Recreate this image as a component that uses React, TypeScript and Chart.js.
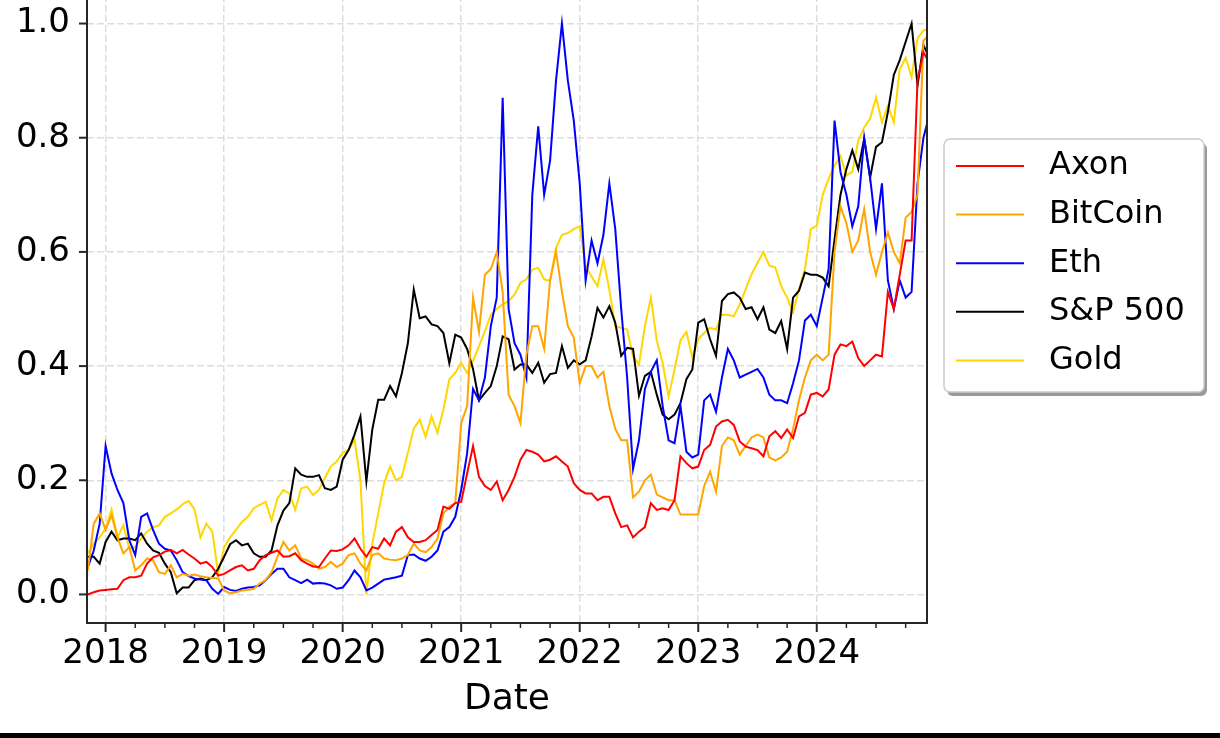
import React, { useEffect, useRef } from 'react';
import { Chart, registerables } from 'chart.js';

Chart.register(...registerables);

// sampled every 0.05 year, starting late 2017
const START_YEAR = 2017.85;
const STEP_YEARS = 0.05;

const axon = [
  0.0, 0.004, 0.007, 0.008, 0.009, 0.01, 0.025, 0.03, 0.03, 0.033, 0.054, 0.065, 0.069, 0.075, 0.078, 0.072, 0.078, 0.07, 0.063, 0.054,
  0.057, 0.048, 0.033, 0.036, 0.042, 0.048, 0.051, 0.042, 0.045, 0.06, 0.069, 0.073, 0.077, 0.066, 0.067, 0.072, 0.06, 0.054, 0.049, 0.048,
  0.063, 0.077, 0.076, 0.079, 0.086, 0.098, 0.08, 0.066, 0.083, 0.08, 0.098, 0.086, 0.11, 0.118, 0.1, 0.092, 0.092, 0.095, 0.104, 0.113,
  0.154, 0.15, 0.16, 0.162, 0.212, 0.26, 0.206, 0.19, 0.183, 0.198, 0.165, 0.183, 0.206, 0.236, 0.253, 0.25, 0.245, 0.233, 0.236, 0.242,
  0.233, 0.224, 0.195, 0.183, 0.177, 0.177, 0.165, 0.171, 0.171, 0.142, 0.118, 0.121, 0.1, 0.11, 0.118, 0.16, 0.148, 0.151, 0.148, 0.165,
  0.242, 0.23, 0.221, 0.224, 0.253, 0.262, 0.294, 0.303, 0.306, 0.297, 0.268, 0.259, 0.256, 0.253, 0.242, 0.277, 0.286, 0.274, 0.289, 0.274,
  0.312, 0.318, 0.35, 0.353, 0.347, 0.359, 0.42, 0.438, 0.435, 0.443, 0.414, 0.4, 0.41, 0.42, 0.417, 0.53, 0.5, 0.56, 0.62, 0.62,
  0.9, 0.95, 0.93,
];

const bitcoin = [
  0.042, 0.124, 0.142, 0.113, 0.139, 0.1, 0.072, 0.083, 0.042, 0.051, 0.063, 0.06, 0.039, 0.036, 0.051, 0.03, 0.036, 0.033, 0.035, 0.032,
  0.03, 0.029, 0.028, 0.007, 0.002, 0.004, 0.007, 0.008, 0.01, 0.019, 0.025, 0.039, 0.066, 0.092, 0.077, 0.086, 0.063, 0.06, 0.054, 0.045,
  0.048, 0.057, 0.048, 0.054, 0.069, 0.072, 0.054, 0.042, 0.069, 0.072, 0.063, 0.061, 0.06, 0.063, 0.069, 0.089, 0.077, 0.074, 0.083, 0.098,
  0.142, 0.154, 0.16, 0.3, 0.33, 0.52, 0.46, 0.56, 0.57, 0.6, 0.53, 0.35, 0.33, 0.3, 0.42, 0.47, 0.47, 0.43, 0.55, 0.6,
  0.53, 0.47, 0.45, 0.37, 0.4, 0.4, 0.38, 0.39, 0.33, 0.29, 0.27, 0.27, 0.17, 0.18, 0.2, 0.21, 0.175, 0.17, 0.165, 0.165,
  0.14, 0.14, 0.14, 0.14, 0.19, 0.215, 0.18, 0.26, 0.275, 0.27, 0.245, 0.26, 0.275, 0.28, 0.275, 0.24, 0.235, 0.24, 0.25, 0.29,
  0.34, 0.38, 0.41, 0.42, 0.41, 0.42, 0.6, 0.68, 0.65, 0.6, 0.62, 0.675, 0.6, 0.56, 0.6, 0.634, 0.6, 0.58, 0.66, 0.67,
  0.7, 0.97, 0.98,
];

const eth = [
  0.048, 0.077, 0.124, 0.26, 0.212, 0.183, 0.16, 0.095, 0.069, 0.136, 0.142, 0.113, 0.089, 0.08, 0.077, 0.06, 0.039, 0.032, 0.028, 0.026,
  0.025, 0.01, 0.001, 0.013, 0.008, 0.006, 0.01, 0.012, 0.013, 0.016, 0.025, 0.036, 0.045, 0.045, 0.03, 0.025, 0.02, 0.026, 0.019, 0.02,
  0.019, 0.016, 0.01, 0.012, 0.025, 0.042, 0.03, 0.007, 0.012, 0.019, 0.026, 0.028, 0.03, 0.033, 0.069, 0.07, 0.063, 0.059, 0.066, 0.077,
  0.11, 0.118, 0.136, 0.183, 0.247, 0.36, 0.34, 0.38, 0.47, 0.52, 0.87, 0.5, 0.44, 0.42, 0.38, 0.7, 0.82, 0.7, 0.76, 0.9,
  1.0, 0.9, 0.83, 0.72, 0.55, 0.62, 0.58, 0.63, 0.72, 0.64, 0.5, 0.38, 0.22, 0.27, 0.36, 0.39, 0.41, 0.33, 0.27, 0.265,
  0.33, 0.25, 0.24, 0.245, 0.34, 0.35, 0.32, 0.38, 0.43, 0.41, 0.38, 0.385, 0.39, 0.395, 0.38, 0.35, 0.34, 0.34, 0.335, 0.37,
  0.41, 0.48, 0.49, 0.47, 0.52, 0.57, 0.83, 0.74, 0.7, 0.645, 0.68, 0.8, 0.73, 0.64, 0.72, 0.55, 0.5, 0.55, 0.52, 0.53,
  0.72, 0.8, 0.84,
];

const sp500 = [
  0.066, 0.066, 0.054, 0.092, 0.11, 0.095, 0.098, 0.098, 0.095, 0.107, 0.089, 0.077, 0.073, 0.054, 0.039, 0.002, 0.012, 0.012, 0.025, 0.028,
  0.025, 0.03, 0.045, 0.066, 0.088, 0.095, 0.086, 0.089, 0.072, 0.066, 0.066, 0.077, 0.121, 0.147, 0.16, 0.221, 0.21, 0.206, 0.206, 0.209,
  0.186, 0.183, 0.189, 0.236, 0.253, 0.28, 0.312, 0.198, 0.289, 0.341, 0.341, 0.365, 0.347, 0.388, 0.44, 0.534, 0.484, 0.487, 0.473, 0.47,
  0.458, 0.405, 0.455, 0.45, 0.43, 0.395, 0.34, 0.353, 0.365, 0.4, 0.452, 0.447, 0.394, 0.403, 0.403, 0.388, 0.406, 0.371, 0.386, 0.388,
  0.435, 0.397, 0.41, 0.403, 0.41, 0.452, 0.502, 0.485, 0.505, 0.476, 0.418, 0.432, 0.43, 0.348, 0.383, 0.39, 0.35, 0.315, 0.307, 0.315,
  0.335, 0.377, 0.394, 0.476, 0.482, 0.447, 0.418, 0.514, 0.526, 0.529, 0.52, 0.5, 0.503, 0.482, 0.503, 0.464, 0.458, 0.479, 0.43, 0.52,
  0.532, 0.564, 0.56, 0.56, 0.555, 0.54, 0.622, 0.7, 0.745, 0.778, 0.745, 0.798, 0.73, 0.784, 0.792, 0.845, 0.91, 0.936, 0.968, 1.0,
  0.892, 0.962, 0.94,
];

const gold = [
  0.072, 0.089, 0.1, 0.116, 0.149, 0.1, 0.121, 0.08, 0.083, 0.098, 0.11, 0.118, 0.121, 0.136, 0.142, 0.149, 0.158, 0.164, 0.149, 0.1,
  0.124, 0.11, 0.036, 0.083, 0.1, 0.113, 0.127, 0.136, 0.151, 0.157, 0.162, 0.13, 0.168, 0.183, 0.177, 0.148, 0.186, 0.189, 0.174, 0.183,
  0.204, 0.224, 0.233, 0.248, 0.253, 0.271, 0.2, 0.0, 0.089, 0.142, 0.195, 0.224, 0.2, 0.206, 0.248, 0.291, 0.306, 0.276, 0.312, 0.283,
  0.324, 0.377, 0.388, 0.406, 0.388, 0.409, 0.435, 0.461, 0.49, 0.5, 0.508, 0.514, 0.525, 0.546, 0.552, 0.569, 0.572, 0.552, 0.549, 0.607,
  0.63, 0.633, 0.64, 0.645, 0.575, 0.557, 0.54, 0.587, 0.534, 0.47, 0.467, 0.464, 0.417, 0.403, 0.47, 0.52, 0.445, 0.405, 0.347, 0.394,
  0.445, 0.46, 0.415, 0.447, 0.458, 0.467, 0.464, 0.49, 0.49, 0.487, 0.508, 0.535, 0.561, 0.581, 0.6, 0.576, 0.573, 0.54, 0.52, 0.494,
  0.535, 0.57, 0.64, 0.646, 0.7, 0.728, 0.751, 0.768, 0.734, 0.74, 0.795, 0.818, 0.833, 0.871, 0.827, 0.856, 0.827, 0.92, 0.94, 0.906,
  0.974, 0.988, 0.99,
];

const dates = axon.map((_, i) => +(START_YEAR + i * STEP_YEARS).toFixed(2));

const yearTicks = [2018, 2019, 2020, 2021, 2022, 2023, 2024];
const valueTicks = [0, 0.2, 0.4, 0.6, 0.8, 1.0];

const FONT = 'DejaVu Sans';

const series = [
  { label: 'Axon', values: axon, color: '#ff0000' },
  { label: 'BitCoin', values: bitcoin, color: '#ffa500' },
  { label: 'Eth', values: eth, color: '#0000ff' },
  { label: 'S&P 500', values: sp500, color: '#000000' },
  { label: 'Gold', values: gold, color: '#ffd700' },
];

// spines and tick marks, matplotlib style
const framePlugin = {
  id: 'frame',
  afterDraw(chart: Chart) {
    const { ctx, chartArea: a } = chart;
    const xs: any = chart.scales.x;
    const ys: any = chart.scales.y;
    ctx.save();
    ctx.strokeStyle = '#262626';
    ctx.lineWidth = 2;
    ctx.beginPath();
    ctx.moveTo(a.left, a.top);
    ctx.lineTo(a.left, a.bottom);
    ctx.lineTo(a.right, a.bottom);
    ctx.lineTo(a.right, a.top);
    ctx.stroke();

    for (let q = Math.ceil(xs.min * 4); q <= Math.floor(xs.max * 4); q++) {
      const major = q % 4 === 0;
      const px = xs.getPixelForValue(q / 4);
      ctx.lineWidth = major ? 2 : 1.5;
      ctx.beginPath();
      ctx.moveTo(px, a.bottom);
      ctx.lineTo(px, a.bottom + (major ? 9 : 5));
      ctx.stroke();
    }
    ctx.lineWidth = 2;
    valueTicks.forEach((v) => {
      const py = ys.getPixelForValue(v);
      ctx.beginPath();
      ctx.moveTo(a.left - 8, py);
      ctx.lineTo(a.left, py);
      ctx.stroke();
    });
    ctx.restore();
  },
};

const legendPlugin = {
  id: 'boxLegend',
  afterDraw(chart: Chart) {
    const ctx = chart.ctx;
    const left = 944;
    const top = 144;
    const w = 260;
    const h = 253;
    ctx.save();
    ctx.fillStyle = 'rgba(0,0,0,0.4)';
    ctx.beginPath();
    ctx.roundRect(left + 3, top + 4, w, h, 6);
    ctx.fill();
    ctx.fillStyle = '#ffffff';
    ctx.strokeStyle = '#cccccc';
    ctx.lineWidth = 1.5;
    ctx.beginPath();
    ctx.roundRect(left, top, w, h, 6);
    ctx.fill();
    ctx.stroke();

    ctx.font = `32px "${FONT}"`;
    ctx.textBaseline = 'middle';
    ctx.textAlign = 'left';
    chart.data.datasets.forEach((ds: any, i: number) => {
      const cy = top + 27 + i * 48.6;
      ctx.strokeStyle = ds.borderColor;
      ctx.lineWidth = 2;
      ctx.beginPath();
      ctx.moveTo(956, cy);
      ctx.lineTo(1024, cy);
      ctx.stroke();
      ctx.fillStyle = '#000000';
      ctx.fillText(ds.label, 1049, cy);
    });
    ctx.restore();
  },
};

const PriceChart: React.FC = () => {
  const canvasRef = useRef<HTMLCanvasElement>(null);
  const chartRef = useRef<Chart | null>(null);

  useEffect(() => {
    if (!canvasRef.current) return;
    const ctx = canvasRef.current.getContext('2d');
    if (!ctx) return;
    if (chartRef.current) chartRef.current.destroy();

    chartRef.current = new Chart(ctx, {
      type: 'line',
      data: {
        datasets: series.map((s) => ({
          label: s.label,
          data: dates.map((d, i) => ({ x: d, y: s.values[i] })),
          borderColor: s.color,
          backgroundColor: s.color,
          borderWidth: 2,
          pointRadius: 0,
          tension: 0,
        })),
      },
      options: {
        responsive: false,
        animation: false,
        layout: { padding: { left: 0, right: 293, top: 0, bottom: 0 } },
        plugins: {
          legend: { display: false },
          tooltip: { enabled: false },
        },
        scales: {
          x: {
            type: 'linear',
            min: 2017.843,
            max: 2024.93,
            afterBuildTicks: (scale: any) => {
              scale.ticks = yearTicks.map((v) => ({ value: v }));
            },
            afterFit: (scale: any) => {
              scale.height = 110;
              scale.paddingLeft = 0;
              scale.paddingRight = 0;
            },
            ticks: {
              autoSkip: false,
              maxRotation: 0,
              padding: 11,
              color: '#000000',
              font: { family: FONT, size: 34 },
              callback: (v: any) => String(v),
            },
            grid: { color: '#dddddd', lineWidth: 1.5, drawTicks: false },
            border: { display: false, dash: [7, 3] },
            title: {
              display: true,
              text: 'Date',
              color: '#000000',
              font: { family: FONT, size: 36 },
              padding: { top: 0, bottom: 12 },
            },
          },
          y: {
            type: 'linear',
            min: -0.05,
            max: 1.05,
            afterBuildTicks: (scale: any) => {
              scale.ticks = valueTicks.map((v) => ({ value: v }));
            },
            afterFit: (scale: any) => {
              scale.width = 87;
              scale.paddingTop = 0;
              scale.paddingBottom = 0;
            },
            ticks: {
              padding: 17,
              color: '#000000',
              font: { family: FONT, size: 34 },
              callback: (v: any) => Number(v).toFixed(1),
            },
            grid: { color: '#dddddd', lineWidth: 1.5, drawTicks: false },
            border: { display: false, dash: [7, 3] },
          },
        },
      },
      plugins: [framePlugin, legendPlugin],
    });

    return () => {
      if (chartRef.current) {
        chartRef.current.destroy();
        chartRef.current = null;
      }
    };
  }, []);

  return <canvas ref={canvasRef} width={1220} height={738} style={{ position: 'absolute', left: 0, top: -5 }} />;
};

export default function App() {
  return (
    <div style={{ position: 'fixed', left: 0, top: 0, width: 1220, height: 738, overflow: 'hidden', background: '#ffffff' }}>
      <PriceChart />
      <div style={{ position: 'absolute', left: 0, top: 733, width: 1220, height: 5, background: '#000000' }} />
    </div>
  );
}
